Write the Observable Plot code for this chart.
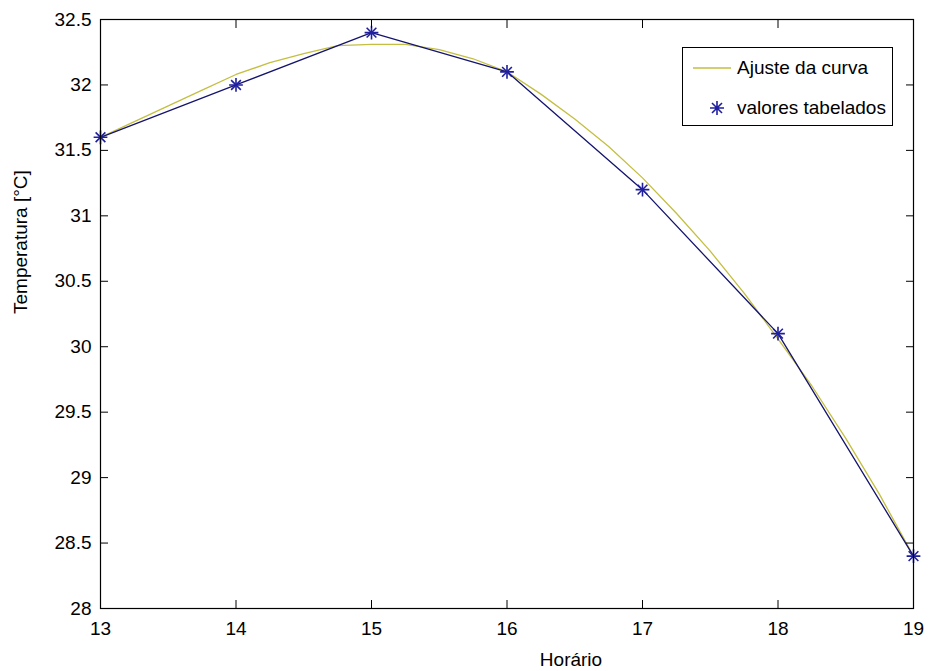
<!DOCTYPE html>
<html>
<head>
<meta charset="utf-8">
<script src="https://cdn.jsdelivr.net/npm/d3@7"></script>
<script src="https://cdn.jsdelivr.net/npm/@observablehq/plot@0.6"></script>
<style>
  html, body { margin: 0; padding: 0; background: #fff; }
  #wrap { position: relative; width: 929px; height: 671px; }
  #legend {
    position: absolute; left: 682px; top: 47px; width: 209px; height: 77px;
    border: 1px solid #000; background: #fff;
    font-family: "Liberation Sans", Arial, sans-serif; font-size: 19px; color: #000;
  }
  .row { position: absolute; left: 0; height: 24px; display: flex; align-items: center; }
  .row svg { display: block; }
  .row span { margin-left: 6px; white-space: nowrap; }
</style>
</head>
<body>
<div id="wrap"></div>
<script>
// Tabulated values
const horario = [13, 14, 15, 16, 17, 18, 19];
const temperatura = [31.6, 32.0, 32.4, 32.1, 31.2, 30.1, 28.4];

// Fitted curve
const ajusteX = [13, 13.25, 13.5, 13.75, 14, 14.25, 14.5, 14.75, 15, 15.25, 15.5, 15.75, 16,
                 16.25, 16.5, 16.75, 17, 17.25, 17.5, 17.75, 18, 18.25, 18.5, 18.75, 19];
const ajusteY = [31.6, 31.72, 31.84, 31.96, 32.08, 32.17, 32.24, 32.3, 32.31, 32.31, 32.27, 32.2, 32.1,
                 31.93, 31.74, 31.53, 31.29, 31.02, 30.73, 30.41, 30.06, 29.7, 29.3, 28.87, 28.4];

// Axis ticks and labels
const xTicks = [13, 14, 15, 16, 17, 18, 19];
const yTicks = [28, 28.5, 29, 29.5, 30, 30.5, 31, 31.5, 32, 32.5];
const xLabel = "Horário";
const yLabel = "Temperatura [°C]";
const legendLabels = ["Ajuste da curva", "valores tabelados"];

const fitColor = "#c4bf40";
const lineColor = "#14146e";
const markColor = "#1f1fa0";

const tab = horario.map((x, i) => ({x, y: temperatura[i]}));
const fit = ajusteX.map((x, i) => ({x, y: ajusteY[i]}));

const chart = Plot.plot({
  width: 929,
  height: 671,
  marginLeft: 100,
  marginRight: 16,
  marginTop: 19,
  marginBottom: 63,
  style: {fontFamily: '"Liberation Sans", Arial, sans-serif', fontSize: "19px", color: "#000", background: "#fff"},
  x: {domain: [13, 19], label: null},
  y: {domain: [28, 32.5], label: null},
  marks: [
    Plot.line(fit, {x: "x", y: "y", stroke: fitColor, strokeWidth: 1.3}),
    Plot.line(tab, {x: "x", y: "y", stroke: lineColor, strokeWidth: 1.3}),
    Plot.dot(tab, {x: "x", y: "y", symbol: "plus", r: 4.5, stroke: markColor, strokeWidth: 1.6}),
    Plot.dot(tab, {x: "x", y: "y", symbol: "times", r: 4.5, stroke: markColor, strokeWidth: 1.6}),
    // tick labels
    Plot.axisX(xTicks, {anchor: "bottom", tickSize: 0, tickPadding: 13, label: null, tickFormat: d => String(d)}),
    Plot.axisY(yTicks, {anchor: "left", tickSize: 0, tickPadding: 9, label: null, tickFormat: d => String(d)}),
    // inward ticks on all four sides
    Plot.axisX(xTicks, {anchor: "bottom", tickSize: -8, text: null, label: null}),
    Plot.axisX(xTicks, {anchor: "top", tickSize: -8, text: null, label: null}),
    Plot.axisY(yTicks, {anchor: "left", tickSize: -8, text: null, label: null}),
    Plot.axisY(yTicks, {anchor: "right", tickSize: -8, text: null, label: null}),
    Plot.frame({stroke: "#000", strokeWidth: 1.2}),
    // axis titles
    Plot.text([xLabel], {text: d => d, frameAnchor: "bottom", dx: 64, dy: 51, lineAnchor: "middle"}),
    Plot.text([yLabel], {text: d => d, frameAnchor: "left", dx: -80, rotate: -90, lineAnchor: "middle"})
  ]
});
const wrap = document.getElementById("wrap");
wrap.appendChild(chart);

// Legend
const legend = document.createElement("div");
legend.id = "legend";
const rowTops = [8, 48];
legendLabels.forEach((lab, i) => {
  const row = document.createElement("div");
  row.className = "row";
  row.style.top = rowTops[i] + "px";
  const ns = "http://www.w3.org/2000/svg";
  const s = document.createElementNS(ns, "svg");
  s.setAttribute("width", 48); s.setAttribute("height", 24);
  if (i === 0) {
    const l = document.createElementNS(ns, "line");
    l.setAttribute("x1", 10); l.setAttribute("x2", 48); l.setAttribute("y1", 12); l.setAttribute("y2", 12);
    l.setAttribute("stroke", fitColor); l.setAttribute("stroke-width", 1.3);
    s.appendChild(l);
  } else {
    const p = document.createElementNS(ns, "path");
    p.setAttribute("d", "M34,5V19M27,12H41M29,7L39,17M39,7L29,17");
    p.setAttribute("stroke", markColor); p.setAttribute("stroke-width", 1.6); p.setAttribute("fill", "none");
    s.appendChild(p);
  }
  row.appendChild(s);
  const t = document.createElement("span");
  t.textContent = lab;
  row.appendChild(t);
  legend.appendChild(row);
});
wrap.appendChild(legend);
</script>
</body>
</html>
